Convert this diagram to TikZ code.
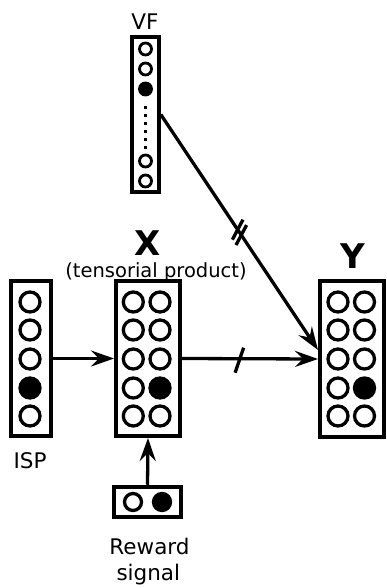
\documentclass[tikz,border=0pt]{standalone}
\usepackage{fontspec}
\setmainfont{DejaVu Sans}
\usetikzlibrary{arrows.meta,calc}
\begin{document}
\begin{tikzpicture}[x=1pt,y=-1pt,
  box/.style={draw,line width=4pt,inner sep=0pt,outer sep=2pt},
  cell/.style={draw,line width=3.3pt},
  full/.style={draw,fill=black,line width=3.3pt},
  vcell/.style={draw,line width=2.8pt},
  vfull/.style={draw,fill=black,line width=2.8pt},
  conn/.style={line width=3.3pt,-{Stealth[length=23pt,width=16pt,inset=8pt]}},
  slashmark/.style={line width=3.3pt},
  lbl/.style={font=\fontsize{21.5}{25}\selectfont,inner sep=0pt},
  big/.style={font=\fontsize{34}{40}\selectfont\bfseries,inner sep=0pt}]
\useasboundingbox (0,0) rectangle (387,588);

% boxes
\node[box,minimum width=27pt,minimum height=155pt] (vf) at (145.3,114.5) {};
\node[box,minimum width=40pt,minimum height=155pt] (isp) at (31,358.5) {};
\node[box,minimum width=64pt,minimum height=155pt] (xb) at (148,358.5) {};
\node[box,minimum width=64pt,minimum height=156pt] (yb) at (352,359) {};
\node[box,minimum width=67pt,minimum height=30.5pt] (rw) at (147.5,502) {};

% VF cells
\foreach \y/\s in {49/vcell,69/vcell,89/vfull,161/vcell,181/vcell}
  \draw[\s] (145.5,\y) circle (6pt);
\foreach \y in {106,114,...,146}
  \fill (143.8,\y) rectangle +(3.4,3.4);

% ISP cells
\foreach \y/\s in {302/cell,330/cell,359/cell,388/full,416/cell}
  \draw[\s] (30,\y) circle (10pt);

% X cells
\foreach \y/\s in {302/cell,330/cell,359/cell,388/full,416/cell}{
  \draw[cell] (133.3,\y) circle (10pt);
  \draw[\s] (160,\y) circle (10pt);
}
% Y cells
\foreach \y/\s in {302/cell,330/cell,359/cell,388/full,416/cell}{
  \draw[cell] (338,\y) circle (10pt);
  \draw[\s] (364.5,\y) circle (10pt);
}
% Reward cells
\draw[cell] (133,502) circle (8.5pt);
\draw[full] (162,502) circle (8.5pt);

% connectors
\draw[conn] (isp.east) -- (xb.west);
\draw[conn] (xb.east) -- (yb.west) coordinate[pos=0.42] (s1);
\draw[conn] (rw.north) -- (xb.south);
\coordinate (yin) at ($(yb.west)+(0,-9)$);
\draw[conn] (vf.east) -- (yin) coordinate[pos=0.489] (d1) coordinate[pos=0.512] (d2);

% slash marks
\draw[slashmark] ($(s1)+(-4,14)$) -- ($(s1)+(4.5,-11)$);
\draw[slashmark] ($(d1)+(-5.3,10)$) -- ($(d1)+(5.3,-10)$);
\draw[slashmark] ($(d2)+(-5.3,10)$) -- ($(d2)+(5.3,-10)$);

% labels
\node[lbl,anchor=base] (vft) at (145,30) {VF};
\node[lbl,anchor=base] (ispt) at (30,468) {ISP};
\node[big,anchor=base] (xt) at (147.5,255) {X};
\node[big,anchor=base] (yt) at (352.5,268) {Y};
\node[font=\fontsize{19.5}{22}\selectfont,inner sep=0pt,anchor=base] (tp) at (156,277) {(tensorial product)};
\node[lbl,anchor=base] (rt1) at (149.5,554) {Reward};
\node[lbl,anchor=base] (rt2) at (148.3,580) {signal};
\end{tikzpicture}
\end{document}
